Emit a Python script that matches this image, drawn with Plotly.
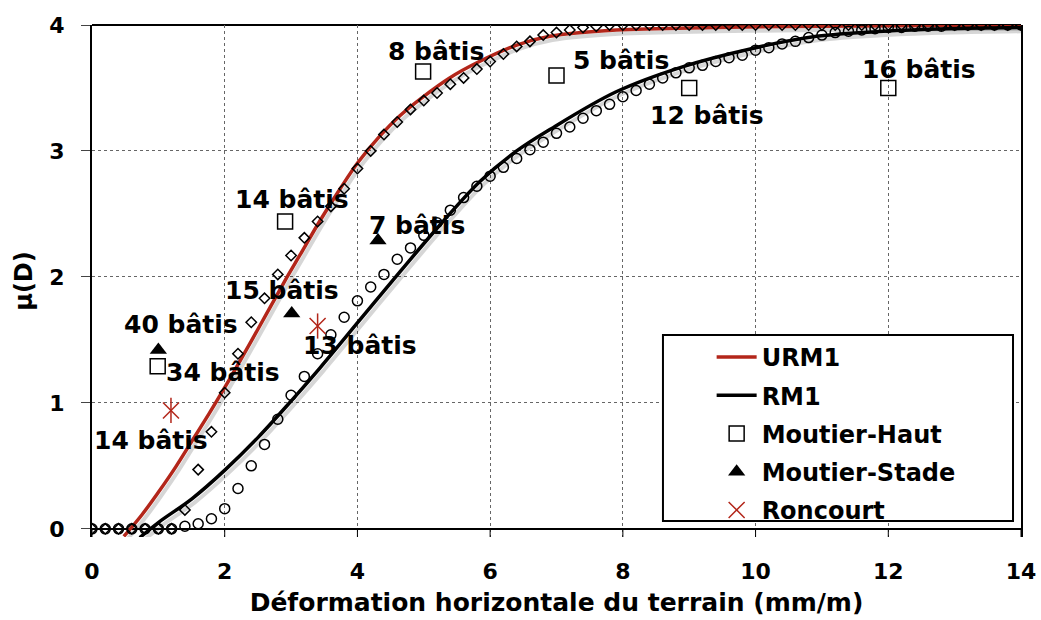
import plotly.graph_objects as go

# ---- fitted vulnerability curves ----
urm1_x = [0.48, 0.75, 1.0, 1.26, 1.51, 1.76, 2.01, 2.4, 2.93, 3.13, 3.44, 3.74, 4.01,
          4.34, 4.64, 4.99, 5.39, 5.8, 6.4, 6.9, 7.9, 9.4, 11.0, 14.0]
urm1_y = [-0.06, 0.11, 0.29, 0.49, 0.70, 0.91, 1.13, 1.49, 1.99, 2.17, 2.45, 2.70, 2.91,
          3.12, 3.28, 3.43, 3.58, 3.70, 3.84, 3.91, 3.96, 3.98, 3.99, 4.0]

rm1_x = [0.72, 1.0, 1.51, 2.01, 2.51, 3.01, 3.44, 4.04, 4.64, 5.24, 5.85, 6.4, 6.9,
         7.9, 8.91, 9.92, 10.92, 11.93, 12.9, 14.0]
rm1_y = [-0.07, 0.05, 0.24, 0.47, 0.73, 1.02, 1.28, 1.66, 2.04, 2.41, 2.76, 3.00, 3.17,
         3.47, 3.67, 3.81, 3.91, 3.95, 3.97, 3.98]

# ---- sampled curves (every 0.2 mm/m) ----
sample_x = [round(0.2 * i, 1) for i in range(71)]
diamond_y = [0, 0, 0, 0, 0, 0, 0,
             0.15, 0.47, 0.77, 1.08, 1.39, 1.64, 1.83, 2.02, 2.17, 2.31, 2.44, 2.56, 2.70,
             2.86, 3.00, 3.13, 3.23, 3.33, 3.40, 3.46, 3.53, 3.58, 3.65, 3.71, 3.77, 3.83,
             3.87, 3.92, 3.94, 3.96, 3.98, 3.99,
             4.0, 4.0, 4.0, 4.0, 4.0, 4.0, 4.0, 4.0, 4.0, 4.0, 4.0, 4.0, 4.0, 4.0, 4.0, 4.0,
             4.0, 4.0, 4.0, 4.0, 4.0, 4.0, 4.0, 4.0, 4.0, 4.0, 4.0, 4.0, 4.0, 4.0, 4.0, 4.0]
circle_y = [0, 0, 0, 0, 0, 0, 0,
            0.02, 0.04, 0.08, 0.16, 0.32, 0.50, 0.67, 0.87, 1.06, 1.21, 1.39, 1.54, 1.68,
            1.81, 1.92, 2.02, 2.14, 2.23, 2.33, 2.43, 2.53, 2.63, 2.72, 2.80, 2.87, 2.94,
            3.01, 3.07, 3.14, 3.19, 3.26, 3.32, 3.37, 3.43, 3.48, 3.53, 3.58, 3.62, 3.66,
            3.68, 3.71, 3.74, 3.76, 3.80, 3.82, 3.85, 3.87, 3.90, 3.92, 3.94, 3.95, 3.96,
            3.97, 3.98, 3.98, 3.99, 3.99, 3.99,
            4.0, 4.0, 4.0, 4.0, 4.0, 4.0]

# ---- observed sites ----
haut_x = [0.99, 2.91, 4.99, 7.0, 9.0, 12.0]
haut_y = [1.29, 2.44, 3.63, 3.60, 3.50, 3.50]
haut_labels = ["34 bâtis", "14 bâtis", "8 bâtis", "5 bâtis", "12 bâtis", "16 bâtis"]

stade_x = [1.0, 3.01, 4.31]
stade_y = [1.42, 1.71, 2.29]
stade_labels = ["40 bâtis", "15 bâtis", "7 bâtis"]

roncourt_x = [1.19, 3.40]
roncourt_y = [0.94, 1.61]
roncourt_labels = ["14 bâtis", "13 bâtis"]

x_ticks = [0, 2, 4, 6, 8, 10, 12, 14]
y_ticks = [0, 1, 2, 3, 4]

RED = "#B3261A"
FONT = dict(family="DejaVu Sans", weight="bold", color="black")
Y_MIN = -0.065

fig = go.Figure()

# soft drop shadow under the fitted curves
for cx, cy in ((urm1_x, urm1_y), (rm1_x, rm1_y)):
    fig.add_trace(go.Scatter(
        x=[v + 0.04 for v in cx], y=[v - 0.03 for v in cy], mode="lines",
        line=dict(color="rgba(0,0,0,0.16)", width=4, shape="spline"),
        showlegend=False, hoverinfo="skip"))

fig.add_trace(go.Scatter(x=urm1_x, y=urm1_y, mode="lines", name="URM1",
                         line=dict(color=RED, width=3.5, shape="spline"),
                         legendrank=1, legendgroup="a"))
fig.add_trace(go.Scatter(x=rm1_x, y=rm1_y, mode="lines", name="RM1",
                         line=dict(color="black", width=3.5, shape="spline"),
                         legendrank=2, legendgroup="b"))

fig.add_trace(go.Scatter(x=sample_x, y=diamond_y, mode="markers", showlegend=False,
                         marker=dict(symbol="diamond-open", size=8, color="black",
                                     line=dict(width=1.5))))
fig.add_trace(go.Scatter(x=sample_x, y=circle_y, mode="markers", showlegend=False,
                         marker=dict(symbol="circle-open", size=10, color="black",
                                     line=dict(width=1.5))))

fig.add_trace(go.Scatter(x=haut_x, y=haut_y, mode="markers", name="Moutier-Haut",
                         marker=dict(symbol="square-open", size=15, color="black",
                                     line=dict(width=1.5)),
                         legendrank=3, legendgroup="c"))
fig.add_trace(go.Scatter(x=stade_x, y=stade_y, mode="markers", name="Moutier-Stade",
                         marker=dict(symbol="triangle-up", size=15, color="black"),
                         legendrank=4, legendgroup="d"))
fig.add_trace(go.Scatter(x=roncourt_x, y=roncourt_y, mode="markers", name="Roncourt",
                         marker=dict(symbol="x-thin-open", size=16, color=RED,
                                     line=dict(width=1.5, color=RED)),
                         legendrank=5, legendgroup="e"))
fig.add_trace(go.Scatter(x=roncourt_x, y=roncourt_y, mode="markers", showlegend=False,
                         marker=dict(symbol="line-ns-open", size=18, color=RED,
                                     line=dict(width=1.5, color=RED))))

# building-count labels, offset in pixels from their marker
label_offsets = {
    ("haut", 0): (65, -6), ("haut", 1): (7, 22), ("haut", 2): (13, 20),
    ("haut", 3): (64, 15), ("haut", 4): (18, -28), ("haut", 5): (31, 18),
    ("stade", 0): (23, 25), ("stade", 1): (-10, 23), ("stade", 2): (39, 15),
    ("ron", 0): (-20, -30), ("ron", 1): (42, -19),
}
for key, xs, ys, labels in (("haut", haut_x, haut_y, haut_labels),
                            ("stade", stade_x, stade_y, stade_labels),
                            ("ron", roncourt_x, roncourt_y, roncourt_labels)):
    for i, (xv, yv, txt) in enumerate(zip(xs, ys, labels)):
        dx, dy = label_offsets[(key, i)]
        fig.add_annotation(x=xv, y=yv, text=txt, showarrow=False,
                           xshift=dx, yshift=dy, font=dict(FONT, size=25))

# x-axis tick marks hanging below the zero line
for t in x_ticks:
    fig.add_shape(type="line", x0=t, x1=t, y0=0, y1=Y_MIN,
                  line=dict(color="black", width=1), layer="above")
# top border
fig.add_shape(type="line", xref="paper", yref="paper", x0=0, x1=1, y0=1, y1=1,
              line=dict(color="black", width=2), layer="between")
# legend frame
fig.add_shape(type="rect", xref="paper", yref="paper",
              x0=0.6146, x1=0.9914, y0=0.0313, y1=0.3945,
              fillcolor="white", line=dict(color="black", width=2), layer="above")

fig.update_layout(
    width=1041, height=620,
    margin=dict(l=92, r=20, t=25, b=83),
    plot_bgcolor="white", paper_bgcolor="white",
    font=dict(FONT, size=22),
    legend=dict(x=0.667, y=0.3945, xanchor="left", yanchor="top",
                bgcolor="rgba(0,0,0,0)", borderwidth=0,
                font=dict(FONT, size=24), tracegroupgap=4,
                traceorder="grouped", itemwidth=40),
)
fig.update_xaxes(range=[0, 14], tickvals=x_ticks, showline=False, ticks="",
                 showgrid=True, gridcolor="#666", griddash="dot", gridwidth=1,
                 zeroline=False, ticklabelstandoff=19, automargin=False,
                 tickfont=dict(FONT, size=22),
                 title=dict(text="Déformation horizontale du terrain (mm/m)",
                            font=dict(FONT, size=25), standoff=10))
fig.update_yaxes(range=[Y_MIN, 4], tickvals=y_ticks, showline=True, linecolor="black",
                 linewidth=2, mirror=True, ticks="outside", ticklen=9, tickwidth=1,
                 tickcolor="#444", showgrid=True, gridcolor="#666", griddash="dot",
                 gridwidth=1, zeroline=True, zerolinecolor="black", zerolinewidth=2,
                 ticklabelstandoff=12, automargin=False, tickfont=dict(FONT, size=22),
                 title=dict(text="µ(D)", font=dict(FONT, size=24), standoff=10))

fig.write_html("out.html")
